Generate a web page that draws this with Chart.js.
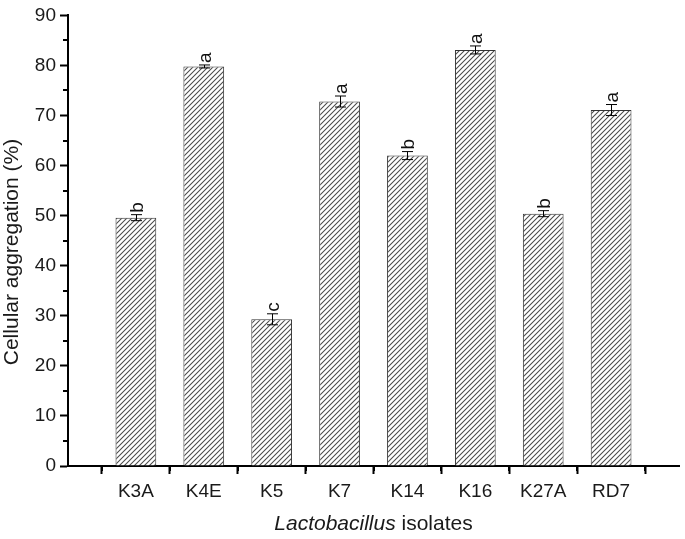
<!DOCTYPE html>
<html>
<head>
<meta charset="utf-8">
<script src="https://cdn.jsdelivr.net/npm/chart.js@4.4.1/dist/chart.umd.min.js"></script>
<style>
  html, body { margin: 0; padding: 0; background: #fff; }
  #wrap { width: 685px; height: 539px; }
</style>
</head>
<body>
<div id="wrap"><canvas id="myChart" width="685" height="539"></canvas></div>
<script>
// isolates and measured aggregation (%)
const isolates = ["K3A", "K4E", "K5", "K7", "K14", "K16", "K27A", "RD7"];
const aggregation = [49.6, 79.8, 29.3, 72.8, 62.0, 83.1, 50.4, 71.1];
const errors = [0.6, 0.3, 1.1, 1.1, 0.8, 0.8, 0.6, 1.1];
const groups = ["b", "a", "c", "a", "b", "a", "b", "a"];
const yTicks = [0, 10, 20, 30, 40, 50, 60, 70, 80, 90];

const FONT = "Arial, 'Liberation Sans', sans-serif";

function makeHatch() {
  const s = 5;
  const c = document.createElement("canvas");
  c.width = s;
  c.height = s;
  const g = c.getContext("2d");
  g.fillStyle = "#fff";
  g.fillRect(0, 0, s, s);
  g.strokeStyle = "#4a4a4a";
  g.lineWidth = 1.05;
  g.beginPath();
  g.moveTo(-1, s + 1);
  g.lineTo(s + 1, -1);
  g.moveTo(-1, 1);
  g.lineTo(1, -1);
  g.moveTo(s - 1, s + 1);
  g.lineTo(s + 1, s - 1);
  g.stroke();
  return g.createPattern(c, "repeat");
}

// error bars, letters, minor ticks and axis titles
const extras = {
  id: "extras",
  afterDatasetsDraw(chart) {
    const ctx = chart.ctx;
    const xs = chart.scales.x;
    const ys = chart.scales.y;
    ctx.save();
    ctx.strokeStyle = "#000";
    ctx.lineWidth = 1;
    ctx.fillStyle = "#111";
    ctx.font = "19px " + FONT;
    aggregation.forEach((v, i) => {
      const cx = Math.round(xs.getPixelForValue(i + 1)) + 0.5;
      const top = ys.getPixelForValue(v + errors[i]);
      const bot = ys.getPixelForValue(v - errors[i]);
      ctx.beginPath();
      ctx.moveTo(cx, top);
      ctx.lineTo(cx, bot);
      ctx.moveTo(cx - 5.5, top);
      ctx.lineTo(cx + 5.5, top);
      ctx.moveTo(cx - 5.5, bot);
      ctx.lineTo(cx + 5.5, bot);
      ctx.stroke();
      ctx.save();
      ctx.translate(cx, top - 2);
      ctx.rotate(-Math.PI / 2);
      ctx.textAlign = "left";
      ctx.textBaseline = "alphabetic";
      ctx.fillText(groups[i], 0, 6);
      ctx.restore();
    });
    ctx.restore();
  },
  afterDraw(chart) {
    const ctx = chart.ctx;
    const xs = chart.scales.x;
    const ys = chart.scales.y;
    const area = chart.chartArea;
    ctx.save();
    ctx.strokeStyle = "#000";
    ctx.lineWidth = 2;
    ctx.beginPath();
    for (let v = 5; v < 90; v += 10) {
      const y = Math.round(ys.getPixelForValue(v));
      ctx.moveTo(area.left - 5, y);
      ctx.lineTo(area.left, y);
    }
    for (let v = 0.5; v < 9; v += 1) {
      const x = Math.round(xs.getPixelForValue(v));
      ctx.moveTo(x, area.bottom);
      ctx.lineTo(x, area.bottom + 5);
    }
    ctx.stroke();

    ctx.fillStyle = "#1a1a1a";
    ctx.textBaseline = "alphabetic";
    const part1 = "Lactobacillus";
    const part2 = " isolates";
    ctx.font = "italic 21px " + FONT;
    const w1 = ctx.measureText(part1).width;
    ctx.font = "21px " + FONT;
    const w2 = ctx.measureText(part2).width;
    let x0 = (area.left + area.right) / 2 - (w1 + w2) / 2;
    ctx.font = "italic 21px " + FONT;
    ctx.fillText(part1, x0, 530);
    ctx.font = "21px " + FONT;
    ctx.fillText(part2, x0 + w1, 530);

    ctx.font = "21px " + FONT;
    ctx.translate(18, 252);
    ctx.rotate(-Math.PI / 2);
    ctx.textAlign = "center";
    ctx.fillText("Cellular aggregation (%)", 0, 0);
    ctx.restore();
  }
};

document.addEventListener("DOMContentLoaded", () => {
  const ctx = document.getElementById("myChart").getContext("2d");
  const hatch = makeHatch();

  new Chart(ctx, {
    type: "bar",
    data: {
      datasets: [
        {
          data: aggregation.map((v, i) => ({ x: i + 1, y: v })),
          backgroundColor: hatch,
          borderColor: "#333",
          borderWidth: 1,
          borderSkipped: "bottom",
          barPercentage: 0.6,
          categoryPercentage: 1.0,
        },
      ],
    },
    options: {
      responsive: false,
      animation: false,
      events: [],
      layout: { padding: { top: 10, right: 2, left: 0, bottom: 0 } },
      plugins: { legend: { display: false }, tooltip: { enabled: false } },
      scales: {
        x: {
          type: "linear",
          min: 0,
          max: 9,
          offset: false,
          border: { display: true, color: "#000", width: 2 },
          grid: {
            drawOnChartArea: false,
            drawTicks: true,
            tickLength: 8,
            tickColor: "#000",
            tickWidth: 2,
          },
          ticks: {
            stepSize: 1,
            autoSkip: false,
            maxRotation: 0,
            padding: 6,
            color: "#1a1a1a",
            font: { family: FONT, size: 19 },
            callback: (v) => isolates[v - 1] || "",
          },
          afterFit: (scale) => { scale.height = 73; },
        },
        y: {
          min: 0,
          max: 90,
          border: { display: true, color: "#000", width: 2 },
          grid: {
            drawOnChartArea: false,
            drawTicks: true,
            tickLength: 8,
            tickColor: "#000",
            tickWidth: 2,
          },
          ticks: {
            stepSize: 10,
            padding: 4,
            color: "#1a1a1a",
            font: { family: FONT, size: 19 },
          },
          afterBuildTicks: (scale) => {
            scale.ticks = yTicks.map((v) => ({ value: v }));
          },
          afterFit: (scale) => { scale.width = 68; },
        },
      },
    },
    plugins: [extras],
  });
});
</script>
</body>
</html>
